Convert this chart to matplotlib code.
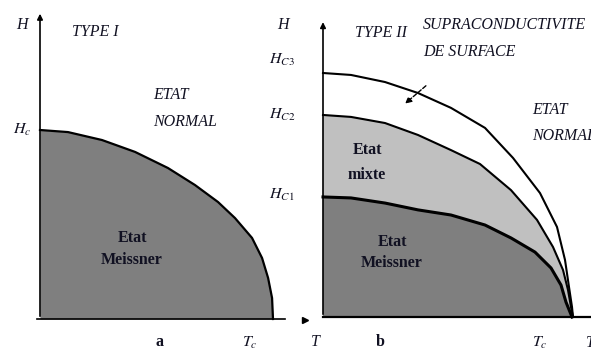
import numpy as np
import matplotlib
matplotlib.use("Agg")
import matplotlib.pyplot as plt

# Type I : critical field Hc(T), reduced units (T/Tc, H/Hc)
t_type1 = [0, 0.120, 0.266, 0.408, 0.549, 0.665, 0.764, 0.837, 0.910,
           0.953, 0.979, 0.996, 1.0]
h_c = [1, 0.989, 0.947, 0.884, 0.799, 0.709, 0.619, 0.534, 0.429,
       0.323, 0.217, 0.111, 0]

# Type II : Hc3, Hc2, Hc1 (T/Tc, H/Hc3)
t_c3 = [0, 0.112, 0.248, 0.380, 0.512, 0.648, 0.760, 0.868, 0.936,
        0.968, 0.984, 0.996, 1.0]
h_c3 = [1, 0.992, 0.963, 0.918, 0.857, 0.775, 0.652, 0.508, 0.369,
        0.234, 0.123, 0.041, 0]
t_c2 = [0, 0.112, 0.248, 0.380, 0.512, 0.628, 0.752, 0.856, 0.920,
        0.960, 0.980, 0.992, 1.0]
h_c2 = [0.828, 0.820, 0.795, 0.746, 0.684, 0.627, 0.520, 0.398, 0.287,
        0.193, 0.111, 0.041, 0]
t_c1 = [0, 0.112, 0.248, 0.380, 0.512, 0.648, 0.752, 0.848, 0.912,
        0.952, 0.972, 0.996]
h_c1 = [0.492, 0.488, 0.467, 0.439, 0.418, 0.377, 0.324, 0.266, 0.201,
        0.131, 0.061, 0]

W, H = 591, 351
DARK = "#7f7f7f"
LIGHT = "#c0c0c0"
plt.rcParams["font.family"] = ["Liberation Serif", "DejaVu Serif"]
plt.rcParams["mathtext.fontset"] = "stix"

fig = plt.figure(figsize=(W / 100, H / 100), dpi=100)


def panel(x0, x1, px_t0, px_t1, px_h0, px_h1):
    # axes spanning pixel columns x0..x1 over the full height,
    # with T=0..1 at px_t0..px_t1 and H=0..1 at px_h0..px_h1
    ax = fig.add_axes([x0 / W, 0, (x1 - x0) / W, 1])
    sx = px_t1 - px_t0
    sy = px_h0 - px_h1
    ax.set_xlim((x0 - px_t0) / sx, (x1 - px_t0) / sx)
    ax.set_ylim((px_h0 - H) / sy, px_h0 / sy)
    ax.axis("off")
    return ax


def txt(x, y, s, **kw):
    fig.text(x / W, 1 - y / H, s, **kw)


# ---- panel a : type I
ax1 = panel(0, 296, 40, 273, 319, 130)
ax1.fill_between(t_type1, h_c, 0, color=DARK, lw=0)
ax1.plot(t_type1, h_c, color="black", lw=1.6, solid_joinstyle="round")
ax1.plot([-0.013, 1.05], [0, 0], color="black", lw=1.2)
ax1.annotate("", xy=(0, 1.63), xytext=(0, 0),
             arrowprops=dict(arrowstyle="-|>", color="black", lw=1.2,
                             mutation_scale=8))

# ---- panel b : type II
ax2 = panel(296, 591, 323, 573, 317, 73)
ax2.fill(t_c1 + [0], h_c1 + [0], color=DARK, lw=0)
ax2.fill(t_c2 + t_c1[::-1], h_c2 + h_c1[::-1], color=LIGHT, lw=0)
ax2.plot(t_c3, h_c3, color="black", lw=1.5, solid_joinstyle="round")
ax2.plot(t_c2, h_c2, color="black", lw=1.5, solid_joinstyle="round")
ax2.plot(t_c1, h_c1, color="black", lw=2.2, solid_joinstyle="round")
ax2.plot([0, 1.2], [0, 0], color="black", lw=1.6)
ax2.annotate("", xy=(0, 1.22), xytext=(0, 0),
             arrowprops=dict(arrowstyle="-|>", color="black", lw=1.2,
                             mutation_scale=8))
ax2.plot([-0.072], [-0.012], marker=">", ms=4, color="black")
# arrow pointing at the surface superconductivity band
ax2.annotate("", xy=(0.32, 0.867), xytext=(0.42, 0.955),
             arrowprops=dict(arrowstyle="-|>", color="black", lw=1.0,
                             linestyle=(0, (3, 1.5)), mutation_scale=9))

it = dict(style="italic", fontsize=11.5, color="#111122", va="center")
bd = dict(weight="bold", fontsize=11.5, color="#111122", va="center", ha="center")

txt(22, 25, "H", ha="center", **it)
txt(72, 32, "TYPE I", **it)
txt(153, 95, "ETAT", **it)
txt(153, 122, "NORMAL", **it)
txt(22, 130, r"$H_c$", ha="center", **it)
txt(132, 238, "Etat", **bd)
txt(132, 260, "Meissner", **bd)
txt(160, 342, "a", **bd)
txt(250, 343, r"$T_c$", ha="center", **it)

txt(283, 25, "H", ha="center", **it)
txt(282, 60, r"$H_{C3}$", ha="center", **it)
txt(282, 115, r"$H_{C2}$", ha="center", **it)
txt(282, 195, r"$H_{C1}$", ha="center", **it)
txt(355, 33, "TYPE II", **it)
txt(423, 25, "SUPRACONDUCTIVITE", **it)
txt(423, 52, "DE SURFACE", **it)
txt(532, 110, "ETAT", **it)
txt(532, 136, "NORMAL", **it)
txt(367, 150, "Etat", **bd)
txt(367, 175, "mixte", **bd)
txt(392, 242, "Etat", **bd)
txt(392, 263, "Meissner", **bd)
txt(315, 342, "T", ha="center", **it)
txt(380, 342, "b", **bd)
txt(540, 343, r"$T_c$", ha="center", **it)
txt(586, 343, "T", ha="left", **it)

fig.savefig("out.png", dpi=100)
